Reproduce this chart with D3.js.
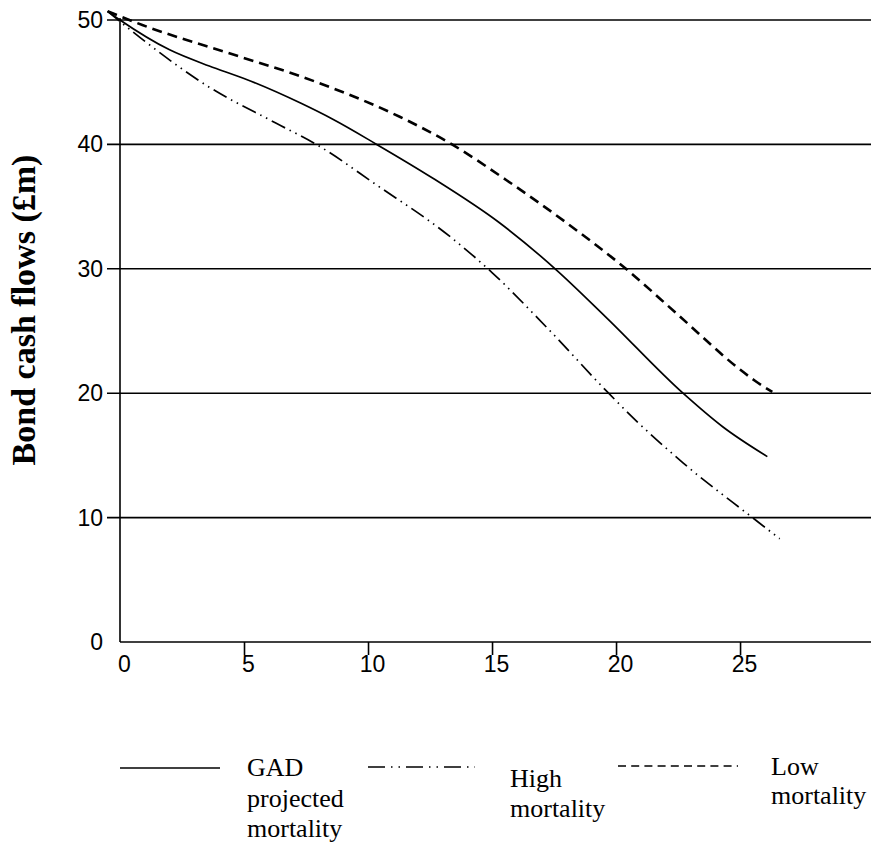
<!DOCTYPE html>
<html>
<head>
<meta charset="utf-8">
<script src="https://cdn.jsdelivr.net/npm/d3@7"></script>
<style>
  html, body { margin: 0; padding: 0; background: #fff; }
  svg { display: block; }
  .sans { font-family: "Liberation Sans", Arial, Helvetica, sans-serif; }
  .serif { font-family: "Liberation Serif", "Times New Roman", Times, "DejaVu Serif", serif; }
</style>
</head>
<body>
<svg id="chart" width="871" height="844"></svg>
<script>
// ---- data ----
const xTickValues = [0, 5, 10, 15, 20, 25];
const yTickValues = [0, 10, 20, 30, 40, 50];

const gadYears = [-0.5, 0, 2, 3.6, 5, 7.3, 8.6, 10.35, 12.6, 15.3, 17.6, 19.6, 22.7, 24.3, 26.1];
const gadValues = [50.7, 50.0, 47.6, 46.3, 45.3, 43.3, 42.0, 40.0, 37.3, 33.7, 29.9, 26.1, 20.0, 17.3, 14.9];

const highYears = [-0.5, 0.8, 3.6, 6.3, 8.0, 10.3, 13.3, 15.0, 17.2, 19.7, 20.7, 22.7, 25.5, 26.6];
const highValues = [50.7, 48.6, 44.6, 41.7, 39.9, 36.8, 32.6, 29.7, 25.3, 20.0, 18.0, 14.4, 10.0, 8.3];

const lowYears = [-0.5, 0.9, 4.6, 7.1, 8.6, 11.3, 13.3, 15.6, 18.0, 20.4, 22.5, 25.0, 25.6, 26.3];
const lowValues = [50.7, 49.6, 47.2, 45.6, 44.5, 42.2, 40.1, 37.1, 33.7, 30.0, 26.3, 21.9, 21.0, 20.1];

const yAxisTitle = "Bond cash flows (£m)";
const legendLabels = [["GAD", "projected", "mortality"], ["High", "mortality"], ["Low", "mortality"]];

// ---- drawing ----
const svg = d3.select("#chart");
const x = d3.scaleLinear().domain([0, 30.28]).range([120, 871]);
const y = d3.scaleLinear().domain([0, 50]).range([642, 20]);

// gridlines (extend left of the axis as tick marks)
svg.append("g")
  .selectAll("line")
  .data(yTickValues.filter(v => v > 0))
  .join("line")
  .attr("x1", 107).attr("x2", 871)
  .attr("y1", d => y(d)).attr("y2", d => y(d))
  .attr("stroke", "#000").attr("stroke-width", 1.6);

// y axis labels
svg.append("g")
  .selectAll("text")
  .data(yTickValues)
  .join("text")
  .attr("class", "sans")
  .attr("x", 103)
  .attr("y", d => y(d) + 8)
  .attr("text-anchor", "end")
  .style("font-size", "23px")
  .text(d => d);

// y axis line
svg.append("line")
  .attr("x1", x(0)).attr("x2", x(0))
  .attr("y1", y(50) - 2).attr("y2", y(0))
  .attr("stroke", "#000").attr("stroke-width", 1.6);

// x axis
const xAxis = d3.axisBottom(x)
  .tickValues(xTickValues)
  .tickSize(13)
  .tickSizeOuter(0)
  .tickFormat(d3.format("d"));
const gx = svg.append("g").attr("transform", `translate(0,${y(0)})`).call(xAxis);
gx.attr("font-family", null).attr("font-size", null);
gx.select(".domain").attr("stroke-width", 1.6).attr("d", `M${x(0)},0H871`);
gx.selectAll(".tick line").attr("stroke-width", 1.6);
gx.selectAll(".tick").filter(d => d === 0).select("line").remove();
gx.selectAll(".tick text")
  .attr("class", "sans")
  .style("font-size", "23px")
  .attr("fill", "#000")
  .attr("dx", 4)
  .attr("y", 14);

// y axis title
svg.append("text")
  .attr("class", "serif")
  .attr("transform", "translate(35,310) rotate(-90)")
  .attr("text-anchor", "middle")
  .style("font-weight", "bold")
  .style("font-size", "34px")
  .text(yAxisTitle);

// series
const line = d3.line()
  .x(d => x(d[0]))
  .y(d => y(d[1]))
  .curve(d3.curveMonotoneX);

const series = [
  { years: gadYears, values: gadValues, width: 1.7, dash: null },
  { years: highYears, values: highValues, width: 1.7, dash: "15,5,1.5,5,1.5,5" },
  { years: lowYears, values: lowValues, width: 2.6, dash: "10,6" }
];

svg.append("g")
  .selectAll("path")
  .data(series)
  .join("path")
  .attr("d", s => line(s.years.map((t, i) => [t, s.values[i]])))
  .attr("fill", "none")
  .attr("stroke", "#000")
  .attr("stroke-width", s => s.width)
  .attr("stroke-dasharray", s => s.dash);

// legend
const legendItems = [
  { x1: 120, x2: 220, ly: 768, dash: null, tx: 247, baselines: [776, 807, 837] },
  { x1: 368, x2: 475, ly: 767, dash: "17,6,1.5,6,1.5,6", tx: 510, baselines: [787, 817] },
  { x1: 618, x2: 738, ly: 766, dash: "8,5.2", tx: 771, baselines: [775, 804] }
];

const lg = svg.append("g");
legendItems.forEach((it, i) => {
  lg.append("line")
    .attr("x1", it.x1).attr("x2", it.x2)
    .attr("y1", it.ly).attr("y2", it.ly)
    .attr("stroke", "#000").attr("stroke-width", 1.6)
    .attr("stroke-dasharray", it.dash);
  legendLabels[i].forEach((txt, j) => {
    lg.append("text")
      .attr("class", "serif")
      .attr("x", it.tx)
      .attr("y", it.baselines[j])
      .style("font-size", "26px")
      .text(txt);
  });
});
</script>
</body>
</html>
